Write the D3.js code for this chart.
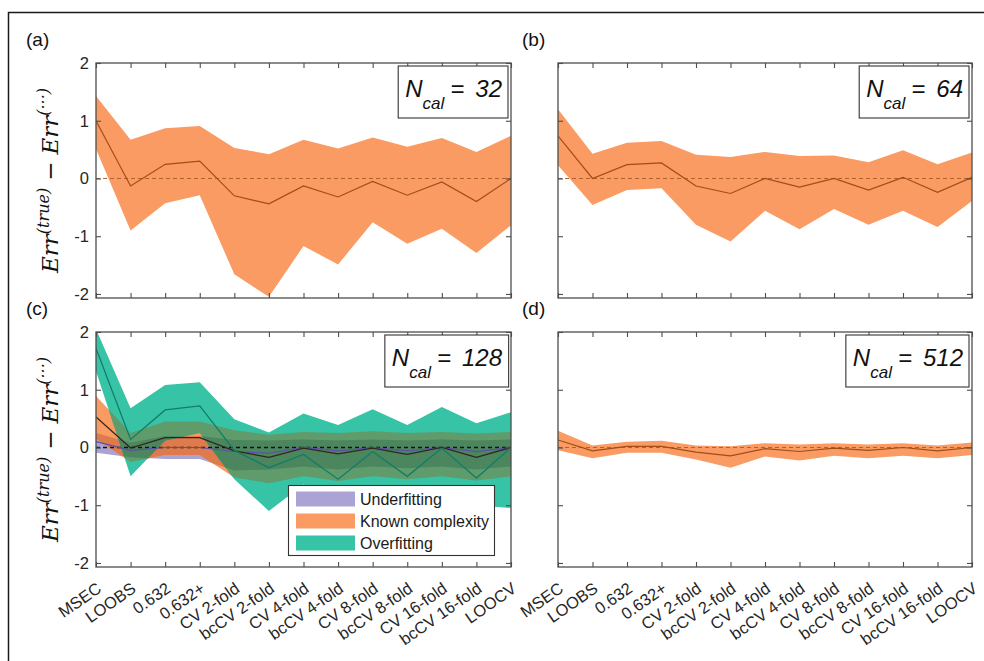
<!DOCTYPE html>
<meta charset="utf-8">
<style>
body { margin: 0; background: #fff; font-family: "Liberation Sans", Arial, sans-serif; }
.tick text { font-size: 16.5px; fill: #262626; font-family: "Liberation Sans", Arial, sans-serif; }
.tick line { stroke: #4d4d4d; stroke-width: 1.1; }
</style>
<svg id="fig" width="984" height="661"></svg>
<script src="https://cdn.jsdelivr.net/npm/d3@7"></script>
<script>

var methods = ["MSEC", "LOOBS", "0.632", "0.632+", "CV 2-fold", "bcCV 2-fold", "CV 4-fold",
  "bcCV 4-fold", "CV 8-fold", "bcCV 8-fold", "CV 16-fold", "bcCV 16-fold", "LOOCV"];
var yTicks = [-2, -1, 0, 1, 2];

// (a) N_cal = 32
var a_mid = [1.00, -0.13, 0.245, 0.30, -0.30, -0.44, -0.13, -0.32, -0.05, -0.29, -0.06, -0.40, 0.00];
var a_hi  = [1.43, 0.67, 0.87, 0.91, 0.53, 0.42, 0.67, 0.52, 0.71, 0.55, 0.70, 0.46, 0.74];
var a_lo  = [0.51, -0.90, -0.43, -0.29, -1.66, -2.05, -1.17, -1.49, -0.76, -1.13, -0.87, -1.29, -0.81];

// (b) N_cal = 64
var b_mid = [0.74, 0.00, 0.24, 0.27, -0.13, -0.26, 0.00, -0.15, 0.00, -0.20, 0.02, -0.24, 0.02];
var b_hi  = [1.20, 0.43, 0.62, 0.65, 0.41, 0.37, 0.46, 0.39, 0.40, 0.28, 0.49, 0.245, 0.45];
var b_lo  = [0.23, -0.46, -0.20, -0.17, -0.80, -1.09, -0.56, -0.88, -0.53, -0.80, -0.56, -0.84, -0.39];

// (c) N_cal = 128, three model settings
var under_mid = [0.10, -0.05, 0.00, 0.00, -0.07, -0.10, 0.00, -0.06, 0.00, -0.06, 0.00, -0.07, 0.00];
var under_hi  = [0.25, 0.08, 0.20, 0.20, 0.13, 0.12, 0.14, 0.12, 0.14, 0.12, 0.14, 0.12, 0.14];
var under_lo  = [-0.09, -0.17, -0.20, -0.20, -0.40, -0.38, -0.33, -0.38, -0.33, -0.36, -0.33, -0.38, -0.33];
var known_mid = [0.53, -0.01, 0.17, 0.17, -0.06, -0.17, -0.01, -0.11, -0.01, -0.12, 0.00, -0.17, 0.00];
var known_hi  = [0.89, 0.25, 0.45, 0.45, 0.30, 0.22, 0.27, 0.25, 0.28, 0.25, 0.27, 0.24, 0.27];
var known_lo  = [0.15, -0.25, -0.13, -0.13, -0.52, -0.62, -0.50, -0.58, -0.50, -0.55, -0.50, -0.57, -0.50];
var over_mid  = [1.72, 0.14, 0.65, 0.72, -0.05, -0.35, -0.12, -0.55, -0.07, -0.50, -0.01, -0.53, 0.00];
var over_hi   = [2.05, 0.68, 1.08, 1.13, 0.49, 0.26, 0.59, 0.39, 0.66, 0.39, 0.70, 0.42, 0.61];
var over_lo   = [1.32, -0.50, 0.12, 0.25, -0.55, -1.10, -0.64, -0.93, -0.72, -0.95, -0.75, -1.00, -1.05];

// (d) N_cal = 512
var d_mid = [0.13, -0.06, 0.02, 0.02, -0.08, -0.145, -0.02, -0.07, -0.01, -0.05, 0.00, -0.06, 0.00];
var d_hi  = [0.29, 0.035, 0.10, 0.115, 0.035, 0.02, 0.075, 0.05, 0.075, 0.05, 0.075, 0.035, 0.085];
var d_lo  = [-0.05, -0.185, -0.09, -0.09, -0.21, -0.35, -0.155, -0.225, -0.145, -0.185, -0.145, -0.185, -0.13];

var legendNames = ["Underfitting", "Known complexity", "Overfitting"];

var ORANGE = "#f99b62", TEAL = "#37c4a6", PURPLE = "#aaa3d4";

var svg = d3.select("#fig");

// figure frame
svg.append("rect")
  .attr("x", 8.5).attr("y", 12.5)
  .attr("width", 1000).attr("height", 700)
  .attr("fill", "none").attr("stroke", "#1a1a1a").attr("stroke-width", 1.5);

var panels = [
  {id: "a", left: 96, right: 511, top: 63, bottom: 298, n: "32", labels: false,
   mid: a_mid, hi: a_hi, lo: a_lo, ylab: true},
  {id: "b", left: 558, right: 972, top: 63, bottom: 298, n: "64", labels: false,
   mid: b_mid, hi: b_hi, lo: b_lo, ylab: false},
  {id: "c", left: 96, right: 511, top: 332, bottom: 567, n: "128", labels: true, ylab: true},
  {id: "d", left: 558, right: 972, top: 332, bottom: 567, n: "512", labels: true,
   mid: d_mid, hi: d_hi, lo: d_lo, ylab: false}
];

function bandPath(x, y, hi, lo) {
  return d3.area()
    .x(function(d, i) { return x(methods[i]); })
    .y0(function(d, i) { return y(lo[i]); })
    .y1(function(d, i) { return y(d); })(hi);
}
function linePath(x, y, vals) {
  return d3.line()
    .x(function(d, i) { return x(methods[i]); })
    .y(function(d) { return y(d); })(vals);
}

panels.forEach(function(p) {
  var x = d3.scalePoint().domain(methods).range([p.left, p.right]);
  var y = d3.scaleLinear().domain([-2.07, 2]).range([p.bottom, p.top]);

  var defs = svg.append("defs");
  defs.append("clipPath").attr("id", "clip-" + p.id)
    .append("rect").attr("x", p.left).attr("y", p.top)
    .attr("width", p.right - p.left).attr("height", p.bottom - p.top);

  var plot = svg.append("g").attr("clip-path", "url(#clip-" + p.id + ")");

  if (p.id !== "c") {
    plot.append("path").attr("d", bandPath(x, y, p.hi, p.lo)).attr("fill", ORANGE);
    plot.append("line")
      .attr("x1", p.left).attr("x2", p.right).attr("y1", y(0)).attr("y2", y(0))
      .attr("stroke", "#b0612e").attr("stroke-width", 1).attr("stroke-dasharray", "4,3");
    plot.append("path").attr("d", linePath(x, y, p.mid))
      .attr("fill", "none").attr("stroke", "#a24d16").attr("stroke-width", 1.2);
  } else {
    var underD = bandPath(x, y, under_hi, under_lo),
        knownD = bandPath(x, y, known_hi, known_lo),
        overD = bandPath(x, y, over_hi, over_lo);
    defs.append("clipPath").attr("id", "clip-known").append("path").attr("d", knownD);
    defs.append("clipPath").attr("id", "clip-over").append("path").attr("d", overD);

    // overlaps drawn as separate clipped layers
    plot.append("path").attr("d", underD).attr("fill", PURPLE);
    plot.append("path").attr("d", knownD).attr("fill", ORANGE);
    plot.append("g").attr("clip-path", "url(#clip-known)")
      .append("path").attr("d", underD).attr("fill", "#de7a4c");
    plot.append("path").attr("d", overD).attr("fill", TEAL);
    var inOver = plot.append("g").attr("clip-path", "url(#clip-over)");
    inOver.append("path").attr("d", underD).attr("fill", "#4f8f86");
    inOver.append("path").attr("d", knownD).attr("fill", "#5f9b6b");
    inOver.append("g").attr("clip-path", "url(#clip-known)")
      .append("path").attr("d", underD).attr("fill", "#4b865f");

    plot.append("line")
      .attr("x1", p.left).attr("x2", p.right).attr("y1", y(0)).attr("y2", y(0))
      .attr("stroke", "#111").attr("stroke-width", 1.5).attr("stroke-dasharray", "4,3");
    plot.append("path").attr("d", linePath(x, y, under_mid))
      .attr("fill", "none").attr("stroke", "#5b50a8").attr("stroke-width", 1.2);
    plot.append("path").attr("d", linePath(x, y, known_mid))
      .attr("fill", "none").attr("stroke", "#33261a").attr("stroke-width", 1.3);
    plot.append("path").attr("d", linePath(x, y, over_mid))
      .attr("fill", "none").attr("stroke", "#107e67").attr("stroke-width", 1.3);
  }

  // axes: ticks on all four sides, pointing inwards
  var gb = svg.append("g").attr("transform", "translate(0," + p.bottom + ")")
    .call(d3.axisBottom(x).tickSize(-5).tickFormat(p.labels ? null : ""));
  svg.append("g").attr("transform", "translate(0," + p.top + ")")
    .call(d3.axisTop(x).tickSize(-5).tickFormat(""));
  var gl = svg.append("g").attr("transform", "translate(" + p.left + ",0)")
    .call(d3.axisLeft(y).tickValues(yTicks).tickSize(-5).tickPadding(7)
      .tickFormat(function(d) { return String(d); }));
  svg.append("g").attr("transform", "translate(" + p.right + ",0)")
    .call(d3.axisRight(y).tickValues(yTicks).tickSize(-5).tickFormat(""));
  svg.selectAll(".domain").remove();
  if (p.id === "b" || p.id === "d") gl.selectAll("text").remove();

  if (p.labels) {
    gb.selectAll("text")
      .attr("x", 0).attr("y", 0).attr("dy", 0)
      .attr("text-anchor", "end")
      .attr("transform", "translate(6,24) rotate(-35)");
  }

  svg.append("rect")
    .attr("x", p.left).attr("y", p.top)
    .attr("width", p.right - p.left).attr("height", p.bottom - p.top)
    .attr("fill", "none").attr("stroke", "#4d4d4d").attr("stroke-width", 1.3);

  // N_cal box
  var nb = svg.append("g");
  var base = p.top + 34;
  var t = nb.append("text")
    .attr("x", p.right - 9).attr("y", base)
    .attr("text-anchor", "end")
    .style("font-style", "italic").style("font-size", "24px").attr("fill", "#111");
  t.append("tspan").text("N");
  t.append("tspan").attr("dy", 12).style("font-size", "17px").text("cal");
  t.append("tspan").attr("dy", -12).attr("dx", 6).text("=");
  t.append("tspan").attr("dx", 11).text(p.n);
  var bb = t.node().getBBox();
  nb.insert("rect", "text")
    .attr("x", bb.x - 7).attr("y", base - 31)
    .attr("width", bb.width + 13).attr("height", 52)
    .attr("fill", "#fff").attr("stroke", "#333").attr("stroke-width", 1.1);

  // panel letter
  svg.append("text")
    .attr("x", p.left - 70 + (p.id === "b" || p.id === "d" ? 34 : 0))
    .attr("y", p.top - 17)
    .style("font-size", "19px").attr("fill", "#111")
    .text("(" + p.id + ")");

  // y label
  if (p.ylab) {
    var yl = svg.append("text")
      .attr("transform", "translate(58," + ((p.top + p.bottom) / 2) + ") rotate(-90)")
      .attr("text-anchor", "middle")
      .style("font-family", "'DejaVu Serif', serif")
      .style("font-style", "italic").style("font-size", "23px").attr("fill", "#111");
    yl.append("tspan").text("Err");
    yl.append("tspan").attr("dy", -9).style("font-size", "16px").text("(true)");
    yl.append("tspan").attr("dy", 9).attr("dx", 7).style("font-style", "normal").text("\u2212");
    yl.append("tspan").attr("dx", 7).text("Err");
    yl.append("tspan").attr("dy", -9).style("font-size", "16px").text("(\u00b7\u00b7\u00b7)");
  }

  // legend in (c)
  if (p.id === "c") {
    var lg = svg.append("g");
    lg.append("rect").attr("x", 288.5).attr("y", 485.5).attr("width", 206).attr("height", 70)
      .attr("fill", "#fff").attr("stroke", "#333").attr("stroke-width", 1.1);
    var cols = [PURPLE, ORANGE, TEAL];
    legendNames.forEach(function(name, i) {
      var cy = 499 + i * 22;
      lg.append("rect").attr("x", 296).attr("y", cy - 7.5).attr("width", 59).attr("height", 15)
        .attr("fill", cols[i]);
      lg.append("text").attr("x", 360).attr("y", cy).attr("dy", "0.35em")
        .style("font-size", "16px").attr("fill", "#1a1a1a").text(name);
    });
  }
});

</script>
